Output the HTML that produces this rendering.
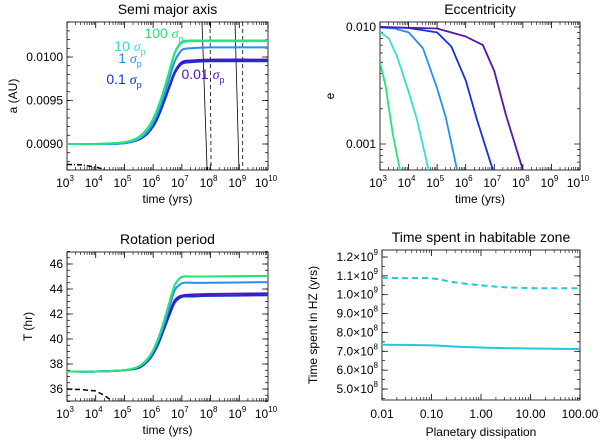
<!DOCTYPE html>
<html><head><meta charset="utf-8"><style>
body{margin:0;background:#fff;}
svg{display:block;font-family:"Liberation Sans",Arial,sans-serif;}
</style></head><body>
<svg id="fig" width="600" height="445" viewBox="0 0 600 445" xmlns="http://www.w3.org/2000/svg"></svg>
<script>
// ---------- data ----------
const colors = {s100:'#25e27a', s10:'#35e0cc', s1:'#2a8ef0', s01:'#1430dc', s001:'#5414b0'};
// Semi major axis (log10 t, a)
const aLogT = [3,4,5,5.5,5.8,6,6.2,6.4,6.6,6.75,6.9,7.05,7.3,8,10];
const a100 = [0.00900,0.00900,0.00902,0.00908,0.00918,0.00929,0.00945,0.00965,0.00988,0.01005,0.01014,0.01018,0.01019,0.01019,0.01019];
const a10  = [0.00900,0.00900,0.00902,0.00907,0.00917,0.00928,0.00944,0.00964,0.00987,0.01004,0.01013,0.01017,0.01018,0.01018,0.01018];
const a1   = [0.00900,0.00900,0.00901,0.00906,0.00914,0.00924,0.00939,0.00958,0.00979,0.00995,0.01004,0.01009,0.01010,0.01011,0.01011];
const a01  = [0.00900,0.00900,0.00901,0.00905,0.00912,0.00920,0.00933,0.00950,0.00968,0.00981,0.00989,0.00993,0.00994,0.00995,0.00995];
const a001 = [0.00900,0.00900,0.00901,0.00905,0.00912,0.00921,0.00934,0.00951,0.00970,0.00983,0.00991,0.00995,0.00996,0.00997,0.00997];
const vSolidTop = [7.70,8.85]; const vSolidBot = [7.88,8.99];
const vDashTop = [7.98,9.12]; const vDashBot = [8.02,9.12];
const aDashDotT = [3,3.5,4,4.4]; const aDashDotV = [0.008765,0.008760,0.008735,0.0087];
// Eccentricity
const eG = [[3,0.005],[3.2,0.0031],[3.45,0.0012],[3.7,0.0006]];
const eC = [[3,0.0091],[3.3,0.0080],[3.6,0.0056],[4,0.0028],[4.3,0.0016],[4.7,0.0006]];
const eB1 = [[3,0.0099],[3.5,0.0097],[4,0.0090],[4.5,0.0066],[5,0.0030],[5.3,0.0017],[5.7,0.0006]];
const eB2 = [[3,0.0100],[4,0.0098],[5,0.0090],[5.5,0.0068],[6,0.0035],[6.4,0.0016],[6.95,0.0006]];
const eP = [[3,0.0100],[5,0.0097],[6,0.0083],[6.6,0.0070],[7,0.0042],[7.4,0.0018],[8,0.0006]];
// Rotation period
const tLogT = [3,4,5,5.5,5.8,6,6.2,6.4,6.6,6.75,6.9,7.05,7.3,8,10];
const t100 = [37.4,37.4,37.5,37.8,38.4,39.1,40.2,41.6,43.2,44.3,44.8,45.0,45.0,45.0,45.05];
const t1   = [37.4,37.4,37.5,37.8,38.3,39.0,40.0,41.3,42.8,43.9,44.3,44.5,44.5,44.5,44.55];
const t01  = [37.4,37.4,37.5,37.7,38.2,38.8,39.7,40.9,42.1,42.9,43.25,43.4,43.4,43.45,43.5];
const t001 = [37.4,37.4,37.5,37.7,38.2,38.8,39.8,41.0,42.3,43.1,43.4,43.5,43.55,43.6,43.65];
const tDashT = [3,3.5,4,4.3,4.6]; const tDashV = [36.0,35.95,35.85,35.5,35.0];
// HZ
const hzX = [0.01,0.03,0.1,0.3,1,3,10,30,100];
const hzDash = [1.09e9,1.088e9,1.087e9,1.065e9,1.05e9,1.04e9,1.035e9,1.034e9,1.034e9];
const hzSolid = [7.35e8,7.34e8,7.31e8,7.25e8,7.2e8,7.17e8,7.15e8,7.13e8,7.12e8];
const hzYTicks = [5,6,7,8,9,10,11,12];
const hzYTickLabels = ['5.0','6.0','7.0','8.0','9.0','1.0','1.1','1.2'];
const hzXTicks = [0.01,0.1,1,10,100];
const hzXLabels = ['0.01','0.10','1.00','10.00','100.00'];

// ---------- helpers ----------
const svg = document.getElementById('fig');
const NS='http://www.w3.org/2000/svg';
function mk(tag, attrs, parent){const e=document.createElementNS(NS,tag);for(const k in attrs)e.setAttribute(k,attrs[k]);(parent||svg).appendChild(e);return e;}
function txt(x,y,s,opts,parent){const e=mk('text',Object.assign({x:x,y:y,'font-size':12,'text-anchor':'middle',fill:'#000'},opts||{}),parent);e.innerHTML=s;return e;}
function panel(name,x0,y0,x1,y1){const g=mk('g',{});
 mk('rect',{x:x0,y:y0,width:x1-x0,height:y1-y0,fill:'none',stroke:'#000','stroke-width':0.8},g);return g;}
function smoothPath(pts){let d='M'+pts[0][0].toFixed(1)+','+pts[0][1].toFixed(1);
 for(let i=0;i<pts.length-1;i++){const p0=pts[Math.max(0,i-1)],p1=pts[i],p2=pts[i+1],p3=pts[Math.min(pts.length-1,i+2)];
  const c1=[p1[0]+(p2[0]-p0[0])/6,p1[1]+(p2[1]-p0[1])/6],c2=[p2[0]-(p3[0]-p1[0])/6,p2[1]-(p3[1]-p1[1])/6];
  d+=' C'+c1.map(v=>v.toFixed(1)).join(',')+' '+c2.map(v=>v.toFixed(1)).join(',')+' '+p2[0].toFixed(1)+','+p2[1].toFixed(1);}
 return d;}
function line(g,pts,stroke,w,dash,name,smooth){const d=smooth?smoothPath(pts):'M'+pts.map(q=>q[0].toFixed(1)+','+q[1].toFixed(1)).join(' L');
 const p=mk('path',{d:d,fill:'none',stroke:stroke,'stroke-width':w,'stroke-linejoin':'round'},g);if(dash)p.setAttribute('stroke-dasharray',dash);
 
 return p;}
function logXAxis(g,X,x0,x1,y0,y1){for(let d=3;d<=10;d++){const x=X(d);
  mk('line',{x1:x,y1:y1,x2:x,y2:y1-6,stroke:'#000','stroke-width':0.8},g);mk('line',{x1:x,y1:y0,x2:x,y2:y0+6,stroke:'#000','stroke-width':0.8},g);
  const t=txt(x-2,y1+17,'10<tspan dy="-6" font-size="8">'+d+'</tspan>',{},g);
  if(d<10)for(let m=2;m<10;m++){const xm=X(d+Math.log10(m));mk('line',{x1:xm,y1:y1,x2:xm,y2:y1-3,stroke:'#000','stroke-width':0.6},g);mk('line',{x1:xm,y1:y0,x2:xm,y2:y0+3,stroke:'#000','stroke-width':0.6},g);}}
 const l=txt((x0+x1)/2,y1+33,'time (yrs)',{},g);}
function yTick(g,y,x0,x1,len){mk('line',{x1:x0,y1:y,x2:x0+len,y2:y,stroke:'#000','stroke-width':0.7},g);mk('line',{x1:x1,y1:y,x2:x1-len,y2:y,stroke:'#000','stroke-width':0.7},g);}

// ---------- Panel 1: semi major axis ----------
(function(){const x0=67,x1=268,y0=22,y1=170;
 const X=l=>x0+(l-3)*(x1-x0)/7, Y=v=>57+(0.0100-v)/0.0005*43.5;
 const g=panel('semi-major-axis-panel',x0,y0,x1,y1);
 const t=txt((x0+x1)/2,14,'Semi major axis',{'font-size':14},g);
 logXAxis(g,X,x0,x1,y0,y1);
 [0.0090,0.0095,0.0100].forEach((v,i)=>{yTick(g,Y(v),x0,x1,6);txt(x0-4,Y(v)+4,['0.0090','0.0095','0.0100'][i],{'text-anchor':'end'},g);});
 for(let v=0.0087;v<=0.01041;v+=0.0001){yTick(g,Y(v),x0,x1,3);}
 const yl=txt(0,0,'a (AU)',{transform:'translate(17,'+(y0+y1)/2+') rotate(-90)'},g);
 const cp=mk('clipPath',{id:'c1'});mk('rect',{x:x0,y:y0,width:x1-x0,height:y1-y0},cp);
 const gc=mk('g',{'clip-path':'url(#c1)'},g);
 for(let i=0;i<2;i++){line(gc,[[X(vSolidTop[i]),y0],[X(vSolidBot[i]),y1]],'#000',0.8,null,'tidal-limit-solid');line(gc,[[X(vDashTop[i]),y0],[X(vDashBot[i]),y1]],'#000',0.8,'4,3','tidal-limit-dashed');}
 line(gc,aDashDotT.map((t,i)=>[X(t),Y(aDashDotV[i])]),'#000',1.5,'5,2,1,2','stellar-corotation');
 [[a001,colors.s001,'a-0.01-sigma'],[a01,colors.s01,'a-0.1-sigma'],[a1,colors.s1,'a-1-sigma'],[a10,colors.s10,'a-10-sigma'],[a100,colors.s100,'a-100-sigma']].forEach(s=>line(gc,aLogT.map((t,i)=>[X(t),Y(s[0][i])]),s[1],2,null,s[2],true));
 const lab=[[130,51,'10',colors.s10],[164,38,'100',colors.s100],[130,63,'1',colors.s1],[124,84,'0.1',colors.s01],[203,79,'0.01',colors.s001]];
 lab.forEach(l=>{const e=txt(l[0],l[1],l[2]+' <tspan font-family="Liberation Serif" font-style="italic">σ</tspan><tspan dy="4" font-size="9">p</tspan>',{'font-size':14,fill:l[3]},g);});
})();

// ---------- Panel 2: eccentricity ----------
(function(){const x0=380,x1=580,y0=22,y1=170;
 const X=l=>x0+(l-3)*(x1-x0)/7, Y=v=>27+(-2-Math.log10(v))*117;
 const g=panel('eccentricity-panel',x0,y0,x1,y1);
 const t=txt((x0+x1)/2,14,'Eccentricity',{'font-size':14},g);
 logXAxis(g,X,x0,x1,y0,y1);
 yTick(g,Y(0.01),x0,x1,6);txt(x0-4,Y(0.01)+4,'0.010',{'text-anchor':'end'},g);
 yTick(g,Y(0.001),x0,x1,6);txt(x0-4,Y(0.001)+4,'0.001',{'text-anchor':'end'},g);
 [0.0006,0.0007,0.0008,0.0009,0.002,0.003,0.004,0.005,0.006,0.007,0.008,0.009].forEach(v=>yTick(g,Y(v),x0,x1,3));
 const yl=txt(0,0,'e',{transform:'translate(334,'+(y0+y1)/2+') rotate(-90)'},g);
 const cp=mk('clipPath',{id:'c2'});mk('rect',{x:x0,y:y0,width:x1-x0,height:y1-y0},cp);
 const gc=mk('g',{'clip-path':'url(#c2)'},g);
 [[eG,colors.s100,'e-100-sigma'],[eC,colors.s10,'e-10-sigma'],[eB1,colors.s1,'e-1-sigma'],[eB2,colors.s01,'e-0.1-sigma'],[eP,colors.s001,'e-0.01-sigma']].forEach(s=>line(gc,s[0].map(p=>[X(p[0]),Y(p[1])]),s[1],1.8,null,s[2]));
})();

// ---------- Panel 3: rotation period ----------
(function(){const x0=67,x1=268,y0=252,y1=401;
 const X=l=>x0+(l-3)*(x1-x0)/7, Y=v=>264+(46-v)*12.5;
 const g=panel('rotation-period-panel',x0,y0,x1,y1);
 const t=txt((x0+x1)/2,244,'Rotation period',{'font-size':14},g);
 logXAxis(g,X,x0,x1,y0,y1);
 for(let v=36;v<=46;v+=2){yTick(g,Y(v),x0,x1,6);txt(x0-4,Y(v)+4,String(v),{'text-anchor':'end'},g);}
 for(let v=35;v<=47;v+=0.5){yTick(g,Y(v),x0,x1,3);}
 const yl=txt(0,0,'T (hr)',{transform:'translate(32,'+(y0+y1)/2+') rotate(-90)'},g);
 const cp=mk('clipPath',{id:'c3'});mk('rect',{x:x0,y:y0,width:x1-x0,height:y1-y0},cp);
 const gc=mk('g',{'clip-path':'url(#c3)'},g);
 line(gc,tDashT.map((t,i)=>[X(t),Y(tDashV[i])]),'#000',1.5,'5,3','stellar-rotation');
 [[t001,colors.s001,'T-0.01-sigma'],[t01,colors.s01,'T-0.1-sigma'],[t1,colors.s1,'T-1-sigma'],[t100,colors.s10,'T-10-sigma'],[t100,colors.s100,'T-100-sigma']].forEach(s=>line(gc,tLogT.map((t,i)=>[X(t),Y(s[0][i])]),s[1],2,null,s[2],true));
})();

// ---------- Panel 4: HZ ----------
(function(){const x0=382,x1=580,y0=250,y1=400;
 const X=v=>x0+(Math.log10(v)+2)*(x1-x0)/4, Y=v=>389-(v/1e8-5)*18.86;
 const g=panel('habitable-zone-panel',x0,y0,x1,y1);
 const t=txt((x0+x1)/2,242,'Time spent in habitable zone',{'font-size':14},g);
 hzXTicks.forEach((v,i)=>{const x=X(v);mk('line',{x1:x,y1:y1,x2:x,y2:y1-6,stroke:'#000','stroke-width':0.8},g);mk('line',{x1:x,y1:y0,x2:x,y2:y0+6,stroke:'#000','stroke-width':0.8},g);
  const l=txt(x,y1+18,hzXLabels[i],{},g);
  if(i<4)for(let m=2;m<10;m++){const xm=X(v*m);mk('line',{x1:xm,y1:y1,x2:xm,y2:y1-3,stroke:'#000','stroke-width':0.6},g);mk('line',{x1:xm,y1:y0,x2:xm,y2:y0+3,stroke:'#000','stroke-width':0.6},g);}});
 hzYTicks.forEach((v,i)=>{const y=Y(v*1e8);yTick(g,y,x0,x1,6);const e=v>=10?9:8;
  const l=txt(x0-4,y+4,hzYTickLabels[i]+'×10<tspan dy="-6" font-size="8">'+e+'</tspan>',{'text-anchor':'end'},g);});
 for(let v=4.5;v<=12.3;v+=0.5)yTick(g,Y(v*1e8),x0,x1,3);
 const xl=txt((x0+x1)/2,y1+36,'Planetary dissipation',{},g);
 const yl=txt(0,0,'Time spent in HZ (yrs)',{transform:'translate(317,'+(y0+y1)/2+') rotate(-90)'},g);
 line(g,hzX.map((v,i)=>[X(v),Y(hzDash[i])]),'#22c8e0',2,'6,4','hz-time-dashed',true);
 line(g,hzX.map((v,i)=>[X(v),Y(hzSolid[i])]),'#22c8e0',2,null,'hz-time-solid',true);
})();
</script>
</body></html>
